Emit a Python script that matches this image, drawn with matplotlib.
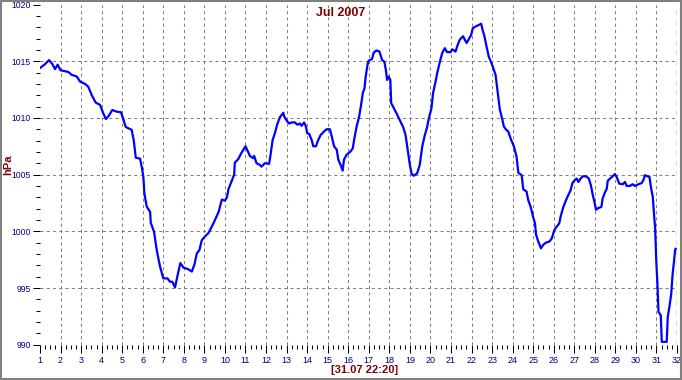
import matplotlib
matplotlib.use("Agg")
import matplotlib.pyplot as plt
from matplotlib.patches import Rectangle
from matplotlib.ticker import MultipleLocator

plt.rcParams['font.family'] = ['Liberation Sans', 'DejaVu Sans']

# --- data (day of month, pressure in hPa) ---
days = [1.0, 1.25, 1.44, 1.6, 1.73, 1.86, 2.0, 2.38, 2.54, 2.79, 2.95, 3.19, 3.35, 3.52,
        3.71, 3.92, 4.08, 4.21, 4.35, 4.52, 4.73, 4.94, 5.07, 5.17, 5.46, 5.56, 5.66, 5.87,
        5.95, 6.03, 6.08, 6.19, 6.36, 6.39, 6.55, 6.68, 6.84, 7.0, 7.2, 7.33, 7.44, 7.57,
        7.7, 7.83, 7.98, 8.22, 8.39, 8.52, 8.63, 8.76, 8.87, 9.03, 9.2, 9.44, 9.69, 9.85,
        10.0, 10.1, 10.17, 10.32, 10.45, 10.48, 10.64, 10.8, 10.93, 11.0, 11.13, 11.21,
        11.37, 11.42, 11.54, 11.7, 11.78, 11.94, 12.15, 12.22, 12.32, 12.43, 12.54, 12.67,
        12.84, 12.89, 13.03, 13.13, 13.24, 13.41, 13.52, 13.65, 13.73, 13.85, 13.94, 14.0,
        14.1, 14.22, 14.3, 14.43, 14.54, 14.66, 14.82, 14.95, 15.11, 15.2, 15.31, 15.44,
        15.52, 15.63, 15.73, 15.79, 15.92, 16.09, 16.22, 16.3, 16.41, 16.53, 16.63, 16.71,
        16.79, 16.85, 16.95, 17.0, 17.16, 17.24, 17.37, 17.52, 17.65, 17.76, 17.83, 17.89,
        17.97, 18.05, 18.09, 18.18, 18.35, 18.51, 18.67, 18.79, 18.92, 19.0, 19.08, 19.19,
        19.35, 19.48, 19.6, 19.71, 19.84, 19.92, 20.05, 20.13, 20.25, 20.33, 20.46, 20.57,
        20.7, 20.81, 20.98, 21.06, 21.22, 21.33, 21.43, 21.59, 21.76, 21.87, 21.98, 22.06,
        22.19, 22.36, 22.47, 22.54, 22.63, 22.73, 22.84, 23.0, 23.17, 23.28, 23.38, 23.49,
        23.57, 23.69, 23.79, 23.9, 24.06, 24.19, 24.28, 24.44, 24.52, 24.68, 24.76, 24.88,
        25.0, 25.09, 25.14, 25.25, 25.38, 25.49, 25.62, 25.79, 25.9, 26.03, 26.14, 26.27,
        26.35, 26.47, 26.6, 26.71, 26.82, 26.91, 27.04, 27.12, 27.2, 27.31, 27.41, 27.57,
        27.71, 27.81, 27.89, 27.98, 28.06, 28.17, 28.32, 28.38, 28.5, 28.58, 28.63, 28.74,
        28.87, 28.98, 29.06, 29.19, 29.36, 29.47, 29.55, 29.71, 29.84, 29.96, 30.12, 30.28,
        30.36, 30.44, 30.56, 30.66, 30.73, 30.82, 30.89, 30.94, 30.99, 31.05, 31.1, 31.21,
        31.26, 31.37, 31.5, 31.55, 31.64, 31.72, 31.78, 31.86, 31.91, 31.94]

pressure = [1014.4, 1014.75, 1015.1, 1014.75, 1014.3, 1014.7, 1014.2, 1014.05, 1013.8,
            1013.65, 1013.2, 1013.0, 1012.75, 1012.0, 1011.35, 1011.15, 1010.4, 1009.9,
            1010.2, 1010.7, 1010.55, 1010.5, 1009.8, 1009.2, 1008.95, 1008.05, 1006.5,
            1006.4, 1005.7, 1004.8, 1003.35, 1002.2, 1001.7, 1000.75, 999.95, 998.35, 996.9,
            995.85, 995.85, 995.55, 995.55, 995.05, 996.15, 997.2, 996.8, 996.65, 996.45,
            997.1, 998.05, 998.35, 999.2, 999.55, 999.85, 1000.7, 1001.7, 1002.8, 1002.7,
            1003.0, 1003.7, 1004.4, 1005.0, 1006.05, 1006.35, 1006.9, 1007.3, 1007.5, 1007.0,
            1006.65, 1006.45, 1006.65, 1006.0, 1005.85, 1005.7, 1006.0, 1005.95, 1006.75,
            1008.05, 1008.65, 1009.4, 1010.05, 1010.45, 1010.1, 1009.7, 1009.5, 1009.6,
            1009.6, 1009.4, 1009.5, 1009.3, 1009.6, 1009.25, 1008.65, 1008.6, 1008.05,
            1007.5, 1007.5, 1008.05, 1008.5, 1008.8, 1009.0, 1009.0, 1008.35, 1007.5, 1007.2,
            1006.3, 1005.85, 1005.35, 1006.3, 1006.75, 1007.0, 1007.3, 1008.2, 1009.25,
            1010.1, 1011.2, 1012.2, 1012.6, 1013.65, 1014.8, 1015.05, 1015.2, 1015.75,
            1015.95, 1015.85, 1015.1, 1014.95, 1014.25, 1013.35, 1013.65, 1013.35, 1011.3,
            1011.0, 1010.4, 1009.8, 1009.2, 1008.5, 1006.9, 1005.85, 1005.1, 1004.9, 1005.1,
            1005.85, 1007.45, 1008.35, 1009.2, 1009.95, 1010.85, 1012.2, 1013.2, 1013.95,
            1014.95, 1015.7, 1016.15, 1015.8, 1015.8, 1016.05, 1015.85, 1016.45, 1016.9,
            1017.2, 1016.6, 1016.95, 1017.3, 1017.9, 1018.05, 1018.2, 1018.3, 1017.75,
            1017.2, 1016.3, 1015.4, 1014.7, 1013.8, 1012.2, 1010.7, 1009.95, 1009.25,
            1008.95, 1008.8, 1008.2, 1007.5, 1006.6, 1005.15, 1004.95, 1003.7, 1003.5,
            1002.75, 1002.15, 1001.25, 1000.7, 999.7, 999.1, 998.5, 998.8, 999.0, 999.1,
            999.35, 1000.1, 1000.4, 1000.7, 1001.4, 1002.15, 1002.75, 1003.2, 1003.6,
            1004.25, 1004.55, 1004.65, 1004.35, 1004.65, 1004.85, 1004.85, 1004.65, 1004.05,
            1003.3, 1002.6, 1001.9, 1002.05, 1002.15, 1002.9, 1003.45, 1003.75, 1004.45,
            1004.65, 1004.85, 1005.05, 1004.8, 1004.2, 1004.15, 1004.35, 1004.0, 1004.0,
            1004.15, 1004.0, 1004.15, 1004.25, 1004.5, 1004.95, 1004.85, 1004.8, 1003.9,
            1003.05, 1001.25, 1000.1, 997.45, 995.25, 992.9, 992.6, 990.25, 990.25, 990.25,
            992.45, 993.45, 994.5, 996.1, 997.45, 998.4, 998.45]

day_ticks = list(range(1, 33))
hpa_ticks = [990, 995, 1000, 1005, 1010, 1015, 1020]
now_day = 31.98
title = "Jul 2007"
stamp = "[31.07 22:20]"

W, H = 682, 380
fig = plt.figure(figsize=(W / 100, H / 100), dpi=100)
fig.patch.set_facecolor("white")
# grey frame round the whole picture
fig.patches.append(Rectangle((0.001, 0.002), 0.997, 0.996, transform=fig.transFigure,
                             fill=False, edgecolor="#808080", linewidth=1.5))

ax = fig.add_axes([40 / W, 1 - 344.7 / H, (677 - 40) / W, (344.7 - 4.5) / H])
ax.set_xlim(1, 32)
ax.set_ylim(990, 1020)

for s in ax.spines.values():
    s.set_visible(False)

# dashed grid, inner lines only
for d in day_ticks[1:-1]:
    ax.axvline(d, color="#808080", lw=0.75, ls=(0, (3, 3)), zorder=1)
for p in hpa_ticks[1:-1]:
    ax.axhline(p, color="#808080", lw=0.75, ls=(0, (3, 3)), zorder=1)

ax.plot(days, pressure, color="#0000ff", lw=1.6, zorder=3)
ax.axvline(now_day, color="#008000", lw=1.0, ls=(0, (3.6, 3.6)), zorder=2)

ax.set_xticks(day_ticks)
ax.set_xticklabels([str(d) for d in day_ticks])
ax.xaxis.set_minor_locator(MultipleLocator(0.25))
ax.set_yticks(hpa_ticks)
ax.set_yticklabels([str(p) for p in hpa_ticks])
ax.yaxis.set_minor_locator(MultipleLocator(1))

ax.tick_params(axis="x", which="major", length=6, width=0.75, color="black",
               labelsize=6.5, labelcolor="#000080", pad=2)
ax.tick_params(axis="x", which="minor", length=3.2, width=0.75, color="black")
ax.tick_params(axis="y", which="major", length=5, width=0.75, color="black",
               labelsize=6.2, labelcolor="#000080", pad=1.5)
ax.tick_params(axis="y", which="minor", length=2.8, width=0.75, color="black")

fig.text(341 / W, 1 - 13 / H, title, ha="center", va="center", color="#800000",
         fontsize=9, fontweight="bold")
fig.text(8 / W, 1 - 165 / H, "hPa", ha="center", va="center", rotation=90,
         color="#800000", fontsize=8, fontweight="bold")
fig.text(365 / W, 1 - 370 / H, stamp, ha="center", va="center", color="#800000",
         fontsize=8, fontweight="bold")

fig.savefig("out.png", dpi=100)
